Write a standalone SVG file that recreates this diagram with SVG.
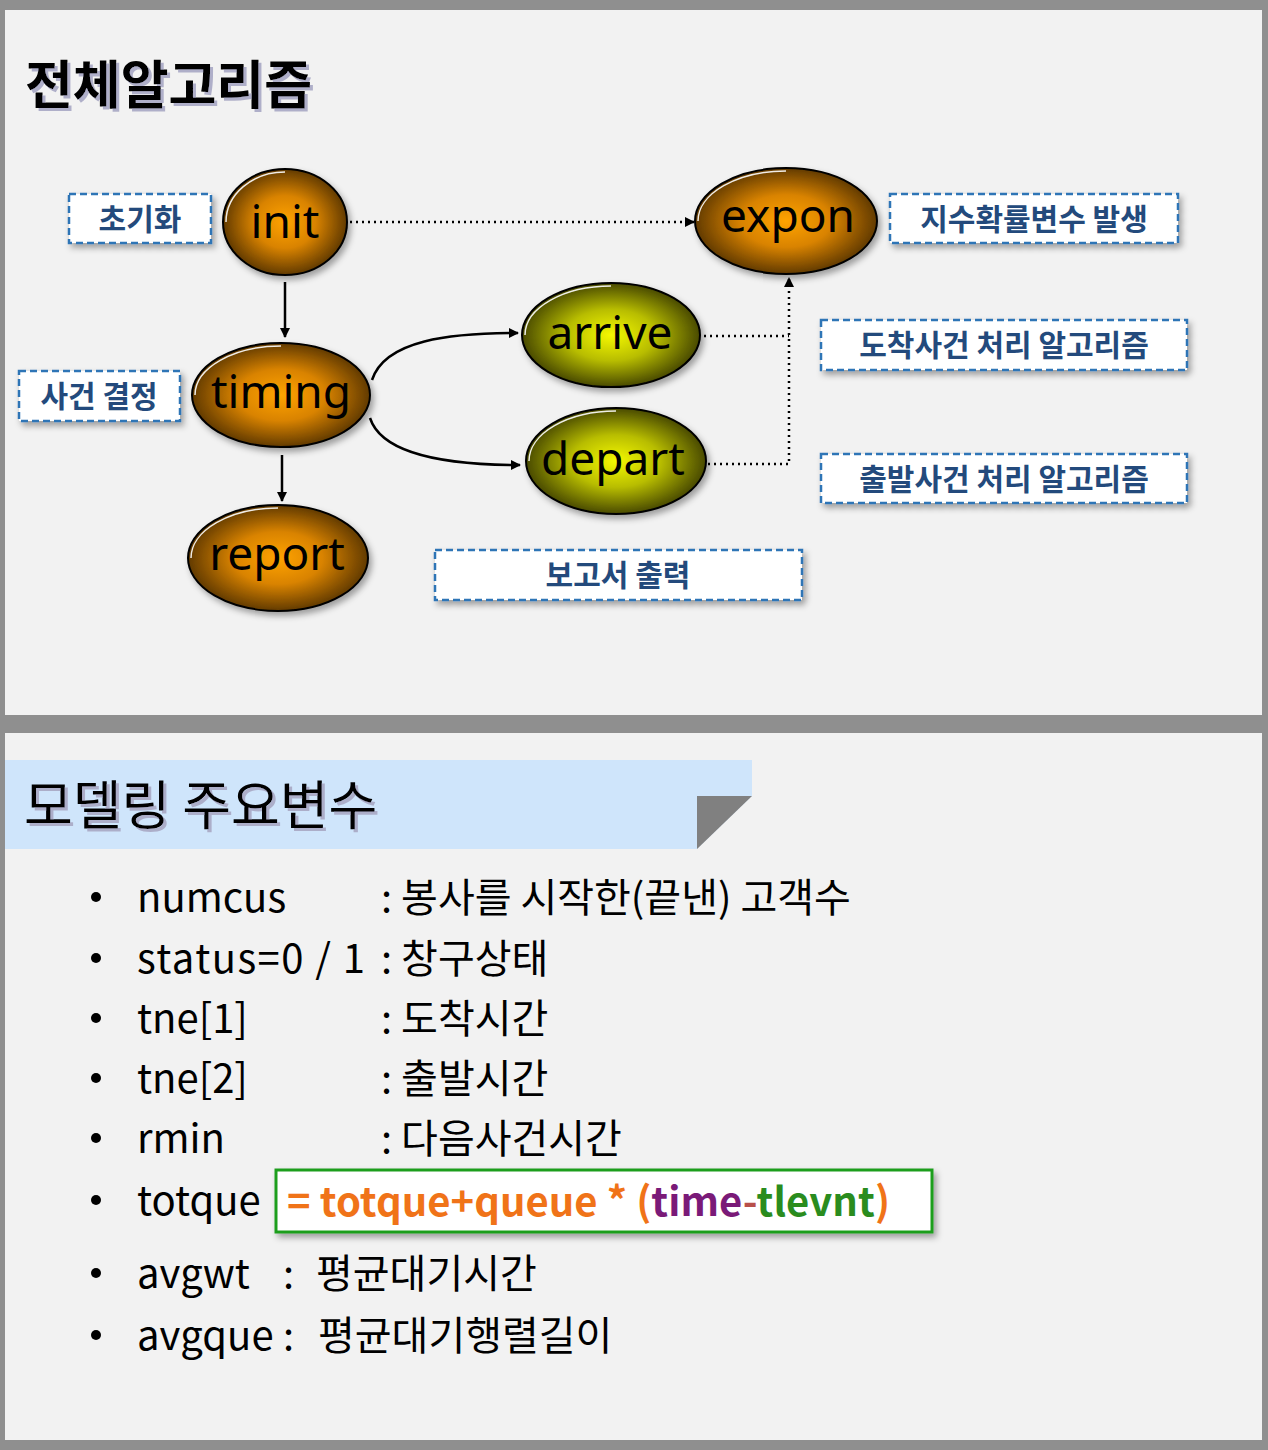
<svg xmlns="http://www.w3.org/2000/svg" width="1268" height="1450" viewBox="0 0 1268 1450">
<style>
.panel{fill:#f2f2f2;}
.lbl rect{fill:#ffffff;stroke:#2e75b6;stroke-width:2.5;stroke-dasharray:7,4;filter:url(#sh);}
.lbl text{font-family:"Noto Sans CJK KR","Noto Sans",sans-serif;font-weight:bold;font-size:30px;fill:#234a7c;text-anchor:middle;}
.node text{font-family:"Noto Sans","Noto Sans CJK KR",sans-serif;font-size:46px;fill:#000;text-anchor:middle;}
.node ellipse.body{stroke:#000;stroke-width:2;filter:url(#sh);}
.node path.hl{fill:none;stroke:#ffffff;stroke-width:1.5;opacity:0.9;}
.solid{fill:none;stroke:#000;stroke-width:2.5;}
.dot{fill:none;stroke:#000;stroke-width:2.5;stroke-dasharray:2,4;}
.li{font-family:"Noto Sans CJK KR","Noto Sans",sans-serif;font-size:40px;fill:#000;}
.bul{fill:#000;}
</style>
<defs>
<filter id="sh" x="-20%" y="-20%" width="150%" height="160%">
<feDropShadow dx="3" dy="4" stdDeviation="3" flood-color="#000" flood-opacity="0.35"/>
</filter>
<filter id="tsh" x="-10%" y="-20%" width="130%" height="150%">
<feDropShadow dx="3" dy="3" stdDeviation="0.6" flood-color="#a8a8c4" flood-opacity="0.9"/>
</filter>
<radialGradient id="og" cx="50%" cy="50%" r="55%">
<stop offset="0%" stop-color="#ffa300"/>
<stop offset="45%" stop-color="#d98300"/>
<stop offset="100%" stop-color="#4a2c00"/>
</radialGradient>
<radialGradient id="yg" cx="50%" cy="50%" r="55%">
<stop offset="0%" stop-color="#f4f800"/>
<stop offset="45%" stop-color="#b8bd00"/>
<stop offset="100%" stop-color="#333300"/>
</radialGradient>
<marker id="ah" markerWidth="10" markerHeight="10" refX="9" refY="5" orient="auto" markerUnits="userSpaceOnUse">
<path d="M0,0 L10,5 L0,10 Z" fill="#000"/>
</marker>
</defs>
<rect x="0" y="0" width="1268" height="1450" fill="#8f8f8f"/>
<rect class="panel" x="5" y="10" width="1257" height="705"/>
<rect class="panel" x="5" y="733" width="1257" height="707"/>

<g id="title1">
<text x="25" y="104" font-family="'Noto Sans CJK KR',sans-serif" font-weight="bold" font-size="52" fill="#000" filter="url(#tsh)">전체알고리즘</text>
</g>

<g id="connectors">
<line class="dot" x1="350" y1="222" x2="694" y2="222" marker-end="url(#ah)"/>
<line class="solid" x1="285" y1="282" x2="285" y2="337" marker-end="url(#ah)"/>
<line class="solid" x1="282" y1="455" x2="282" y2="501" marker-end="url(#ah)"/>
<path class="solid" d="M372,380 C385,340 450,333 518,333" marker-end="url(#ah)"/>
<path class="solid" d="M370,418 C382,455 450,465 520,465" marker-end="url(#ah)"/>
<path class="dot" d="M704,336 L789,336"/>
<path class="dot" d="M708,464 L789,464 L789,278" marker-end="url(#ah)"/>
</g>

<g id="init" class="node">
<ellipse class="body" cx="285" cy="222" rx="62" ry="53" fill="url(#og)"/>
<path class="hl" transform="translate(285,222)" d="M-59,0 A59 50 0 0 1 0,-50"/>
<text x="285" y="238">init</text>
</g>
<g id="expon" class="node">
<ellipse class="body" cx="786" cy="221" rx="91" ry="53" fill="url(#og)"/>
<path class="hl" transform="translate(786,221)" d="M-88,0 A88 50 0 0 1 0,-50"/>
<text x="788" y="232">expon</text>
</g>
<g id="timing" class="node">
<ellipse class="body" cx="281" cy="395" rx="89" ry="52" fill="url(#og)"/>
<path class="hl" transform="translate(281,395)" d="M-86,0 A86 49 0 0 1 0,-49"/>
<text x="281" y="408">timing</text>
</g>
<g id="arrive" class="node">
<ellipse class="body" cx="611" cy="335" rx="89" ry="52" fill="url(#yg)"/>
<path class="hl" transform="translate(611,335)" d="M-86,0 A86 49 0 0 1 0,-49"/>
<text x="610" y="349">arrive</text>
</g>
<g id="depart" class="node">
<ellipse class="body" cx="616" cy="461" rx="90" ry="53" fill="url(#yg)"/>
<path class="hl" transform="translate(616,461)" d="M-87,0 A87 50 0 0 1 0,-50"/>
<text x="613" y="475">depart</text>
</g>
<g id="report" class="node">
<ellipse class="body" cx="278" cy="558" rx="90" ry="53" fill="url(#og)"/>
<path class="hl" transform="translate(278,558)" d="M-87,0 A87 50 0 0 1 0,-50"/>
<text x="277" y="570">report</text>
</g>

<g id="lbl-init" class="lbl">
<rect x="69" y="194" width="142" height="49"/>
<text x="140" y="230">초기화</text>
</g>
<g id="lbl-expon" class="lbl">
<rect x="890" y="194" width="288" height="49"/>
<text x="1034" y="230">지수확률변수 발생</text>
</g>
<g id="lbl-timing" class="lbl">
<rect x="19" y="371" width="161" height="50"/>
<text x="99" y="407">사건 결정</text>
</g>
<g id="lbl-arrive" class="lbl">
<rect x="821" y="320" width="366" height="50"/>
<text x="1004" y="356">도착사건 처리 알고리즘</text>
</g>
<g id="lbl-depart" class="lbl">
<rect x="821" y="454" width="366" height="49"/>
<text x="1004" y="490">출발사건 처리 알고리즘</text>
</g>
<g id="lbl-report" class="lbl">
<rect x="435" y="550" width="367" height="50"/>
<text x="618" y="586">보고서 출력</text>
</g>

<g id="banner">
<polygon points="5,760 752,760 752,796 697,849 5,849" fill="#cfe5fb"/>
<polygon points="697,796 752,796 697,849" fill="#808080"/>
<text x="24" y="825" font-family="'Noto Sans CJK KR',sans-serif" font-size="53" fill="#000" filter="url(#tsh)">모델링 주요변수</text>
</g>

<g id="list">
<circle class="bul" cx="96" cy="897" r="5"/>
<text class="li" x="137" y="912">numcus</text>
<text class="li" x="381" y="912">: 봉사를 시작한(끝낸) 고객수</text>
<circle class="bul" cx="96" cy="958" r="5"/>
<text class="li" x="137" y="973" textLength="228">status=0 / 1</text>
<text class="li" x="381" y="973">: 창구상태</text>
<circle class="bul" cx="96" cy="1018" r="5"/>
<text class="li" x="137" y="1033">tne[1]</text>
<text class="li" x="381" y="1033">: 도착시간</text>
<circle class="bul" cx="96" cy="1078" r="5"/>
<text class="li" x="137" y="1093">tne[2]</text>
<text class="li" x="381" y="1093">: 출발시간</text>
<circle class="bul" cx="96" cy="1138" r="5"/>
<text class="li" x="137" y="1153">rmin</text>
<text class="li" x="381" y="1153">: 다음사건시간</text>
<circle class="bul" cx="96" cy="1200" r="5"/>
<text class="li" x="137" y="1215">totque</text>
<g id="formula">
<rect x="276" y="1170" width="656" height="62" fill="#ffffff" stroke="#1e9e1e" stroke-width="3" filter="url(#sh)"/>
<text class="li" x="287" y="1216" font-weight="bold" textLength="603"><tspan fill="#f07318">= totque+queue * (</tspan><tspan fill="#7a1a78">time</tspan><tspan fill="#b8504a">-</tspan><tspan fill="#2a8c1e">tlevnt</tspan><tspan fill="#f07318">)</tspan></text>
</g>
<circle class="bul" cx="96" cy="1273" r="5"/>
<text class="li" x="137" y="1288">avgwt</text>
<text class="li" x="283" y="1288">:</text>
<text class="li" x="316" y="1288">평균대기시간</text>
<circle class="bul" cx="96" cy="1335" r="5"/>
<text class="li" x="137" y="1350">avgque</text>
<text class="li" x="283" y="1350">:</text>
<text class="li" x="318" y="1350">평균대기행렬길이</text>
</g>
</svg>
